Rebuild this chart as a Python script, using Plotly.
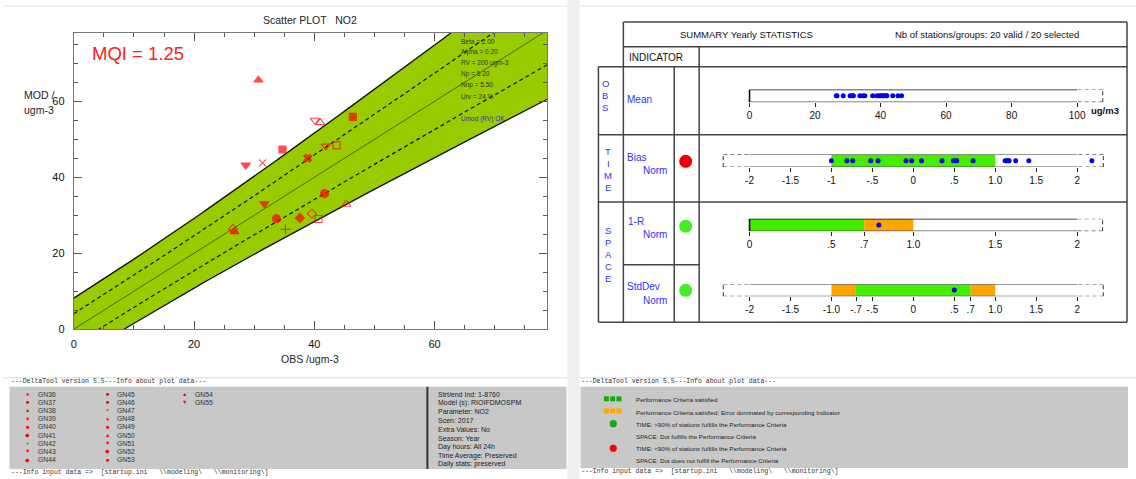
import numpy as np
import plotly.graph_objects as go

W, H = 1136, 479          # reference pixel frame used for all placements
FIG_H = 486               # rendered layout height (viewport compensation)
SANS = "Liberation Sans, Arial, sans-serif"
MONO = "Liberation Mono, Courier New, monospace"

# ---------------- data ----------------
stations = ['GN36', 'GN37', 'GN38', 'GN39', 'GN40', 'GN41', 'GN42', 'GN43', 'GN44', 'GN45',
            'GN46', 'GN47', 'GN48', 'GN49', 'GN50', 'GN51', 'GN52', 'GN53', 'GN54', 'GN55']
obs = [41.7, 43.7, 26.7, 31.7, 34.7, 37.6, 35.2, 41.9, 26.5, 46.4,
       40.7, 31.4, 33.7, 38.9, 30.7, 28.6, 39.6, 45.3, 41.0, 40.1]
mod = [35.7, 48.4, 25.7, 33.0, 47.3, 29.3, 26.3, 48.2, 26.4, 55.9,
       29.0, 43.8, 29.1, 45.0, 65.6, 43.2, 30.4, 32.9, 54.4, 55.0]
symbols = ['circle', 'square-open', 'triangle-up', 'triangle-down', 'square', 'diamond',
           'cross-thin-open', 'triangle-down-open', 'diamond-open', 'square', 'square-open',
           'x-thin-open', 'circle', 'x', 'triangle-up', 'triangle-down', 'diamond-open',
           'triangle-up-open', 'triangle-up-open', 'triangle-down-open']
legend_chars = ['●', '■', '▲', '▼', '■', '◆', '+', '▼', '◆', '■',
                '■', '×', '●', '■', '▲', '▼', '◆', '■', '▲', '▼']

# MQO parameters (shown on the plot)
beta, alpha, rv, n_p, n_np, urv = 2.0, 0.20, 200.0, 5.20, 5.50, 0.24
mqi_value = 1.25
param_lines = ['Beta = 2.00', 'Alpha = 0.20', 'RV = 200 ugm-3', 'Np = 5.20', 'Nnp = 5.50', 'Urv = 24 %']

bias_norm = [-1.00, -0.81, -0.74, -0.52, -0.43, -0.09, -0.02, 0.10, 0.35, 0.49,
             0.52, 0.53, 0.73, 1.12, 1.14, 1.16, 1.17, 1.25, 1.41, 2.18]
one_minus_r_norm = [0.79]
stddev_norm = [0.50]

mean_ticks = [0, 20, 40, 60, 80, 100]
bias_ticks = [-2, -1.5, -1, -0.5, 0, 0.5, 1, 1.5, 2]
bias_ticktext = ['-2', '-1.5', '-1', '-.5', '0', '.5', '1.0', '1.5', '2']
r_ticks = [0, 0.5, 0.7, 1, 1.5, 2]
r_ticktext = ['0', '.5', '.7', '1.0', '1.5', '2']
sd_ticks = [-2, -1.5, -1, -0.7, -0.5, 0, 0.5, 0.7, 1, 1.5, 2]
sd_ticktext = ['-2', '-1.5', '-1.0', '-.7', '-.5', '0', '.5', '.7', '1.0', '1.5', '2']

info_lines = ['Strt/end Ind: 1-8760', 'Model (s): RIOIFDMOSPM', 'Parameter: NO2', 'Scen: 2017',
              'Extra Values: No', 'Season: Year', 'Day hours: All 24h',
              'Time Average: Preserved', 'Daily stats: preserved']
summary_legend = ['Performance Criteria satisfied',
                  'Performance Criteria satisfied; Error dominated by corresponding Indicator',
                  'TIME: >90% of stations fulfills the Performance Criteria',
                  'SPACE: Dot fulfills the Performance Criteria',
                  'TIME: <90% of stations fulfills the Performance Criteria',
                  'SPACE: Dot does not fulfill the Performance Criteria']

# ---------------- helpers ----------------
def PX(x):
    return x / W


def PY(y):
    return 1 - y / H


shapes = []
annotations = []
DASH = '4px,3px'


def txt(x, y, s, size, color='#222', anchor='left', family=SANS, yanchor='middle'):
    annotations.append(dict(x=PX(x), y=PY(y), xref='paper', yref='paper', text=s, showarrow=False,
                            xanchor=anchor, yanchor=yanchor, borderpad=0,
                            font=dict(size=size, color=color, family=family)))


def pline(x0, y0, x1, y1, color='#333', width=1.0, dash='solid'):
    shapes.append(dict(type='line', xref='paper', yref='paper', x0=PX(x0), y0=PY(y0), x1=PX(x1), y1=PY(y1),
                       line=dict(color=color, width=width, dash=dash)))


def prect(x0, y0, x1, y1, fill, line_color=None, layer='below'):
    shapes.append(dict(type='rect', xref='paper', yref='paper', x0=PX(x0), y0=PY(y1), x1=PX(x1), y1=PY(y0),
                       fillcolor=fill, line=dict(width=0 if line_color is None else 1,
                                                  color=line_color or fill), layer=layer))


def pcircle(cx, cy, r, fill):
    shapes.append(dict(type='circle', xref='paper', yref='paper', x0=PX(cx - r), y0=PY(cy + r),
                       x1=PX(cx + r), y1=PY(cy - r), fillcolor=fill, line=dict(width=0)))


fig = go.Figure()

# ---------------- left: scatter ----------------
o_grid = np.linspace(0, 80, 321)
unc = urv * np.sqrt((1 - alpha ** 2) * o_grid ** 2 / n_p + alpha ** 2 * rv ** 2 / n_np)
upper = o_grid + beta * unc
lower = np.clip(o_grid - beta * unc, 0, None)

fig.add_trace(go.Scatter(x=np.concatenate([o_grid, o_grid[::-1]]),
                         y=np.concatenate([upper, lower[::-1]]),
                         fill='toself', fillcolor='#99cc00', mode='lines', line=dict(width=0),
                         hoverinfo='skip', xaxis='x', yaxis='y'))
for yy in (upper, o_grid - beta * unc):
    fig.add_trace(go.Scatter(x=o_grid, y=yy, mode='lines', line=dict(color='#111', width=1.3),
                             hoverinfo='skip', xaxis='x', yaxis='y'))
for yy in (o_grid + unc, o_grid - unc):
    fig.add_trace(go.Scatter(x=o_grid, y=yy, mode='lines', line=dict(color='#111', width=1.2, dash=DASH),
                             hoverinfo='skip', xaxis='x', yaxis='y'))
fig.add_trace(go.Scatter(x=o_grid, y=o_grid, mode='lines', line=dict(color='#3a4a10', width=0.8),
                         hoverinfo='skip', xaxis='x', yaxis='y'))

sizes = [8 if ('triangle' in s or 'circle' in s) else 7 for s in symbols]
fig.add_trace(go.Scatter(x=obs, y=mod, mode='markers', text=stations, xaxis='x', yaxis='y',
                         marker=dict(symbol=symbols, color='#ff0000', size=sizes,
                                     line=dict(color='#ff0000', width=1.1))))

txt(307.5, 19.5, 'Scatter PLOT   NO2', 10.5, '#222', anchor='center')
txt(88, 53.5, f'MQI = {mqi_value:.2f}', 18.5, '#ff2020')
txt(20, 95, 'MOD /', 10.5, '#222')
txt(20, 110, 'ugm-3', 10.5, '#222')
txt(308, 358, 'OBS /ugm-3', 10.5, '#222', anchor='center')
for k, s in enumerate(param_lines):
    txt(458, 41 + k * 11, s, 6.5, '#333')
txt(458, 118.5, 'Umod (RV) OK', 6.5, '#3333aa')

# ---------------- right: summary table ----------------
TC = '#444'
pline(622, 22, 1127, 22, TC, 1.5)
pline(622, 46.7, 1127, 46.7, TC, 1.5)
pline(597, 66.7, 1127, 66.7, TC, 1.5)
pline(597, 134.5, 1127, 134.5, TC, 1.5)
pline(597, 201.7, 1127, 201.7, TC, 1.5)
pline(622, 264.3, 698, 264.3, TC, 1.5)
pline(597, 321.7, 1127, 321.7, TC, 1.5)
pline(597, 66.7, 597, 321.7, TC, 1.5)
pline(622, 22, 622, 321.7, TC, 1.5)
pline(673, 66.7, 673, 321.7, TC, 1.5)
pline(698, 46.7, 698, 321.7, TC, 1.5)
pline(1127, 22, 1127, 321.7, TC, 1.5)

txt(745.5, 34.5, 'SUMMARY Yearly STATISTICS', 9.5, '#111', anchor='center')
txt(987, 34.5, 'Nb of stations/groups: 20 valid / 20 selected', 9.5, '#111', anchor='center')
txt(627, 57.3, 'INDICATOR', 10, '#111')

BLUE = '#3030ff'
for k, ch in enumerate('OBS'):
    txt(604, 83 + k * 12, ch, 9.5, BLUE, anchor='center')
for k, ch in enumerate('TIME'):
    txt(607, 151 + k * 12, ch, 9.5, BLUE, anchor='center')
for k, ch in enumerate('SPACE'):
    txt(607, 230 + k * 12, ch, 9.5, BLUE, anchor='center')
txt(625, 99, 'Mean', 10, BLUE)
txt(625, 157, 'Bias', 10, BLUE)
txt(640.5, 170.5, 'Norm', 10, BLUE)
txt(626, 221, '1-R', 10, BLUE)
txt(640.5, 234.5, 'Norm', 10, BLUE)
txt(625, 286, 'StdDev', 10, BLUE)
txt(640.5, 299.5, 'Norm', 10, BLUE)
pcircle(684.5, 161, 6.5, '#ee0000')
pcircle(684.5, 225.7, 6.5, '#44ee22')
pcircle(684.5, 289.7, 6.5, '#44ee22')
txt(1105, 110.5, '<b>ug/m3</b>', 9.5, '#111', anchor='center')

GREEN = '#44ee00'
ORANGE = '#ffa500'

rows = [
    # idx, vmin, vmax, y_top, y_bot, ticks, ticktext, ext_lo, ext_hi, top_col, left_edge, bands, values
    (2, 0, 100, 89.3, 102.0, mean_ticks, [str(t) for t in mean_ticks], None, 107.8, '#111', True, [], obs),
    (3, -2, 2, 154.0, 166.7, bias_ticks, bias_ticktext, -2.32, 2.32, '#777', False, [(-1, 1, GREEN)], bias_norm),
    (4, 0, 2, 218.3, 230.7, r_ticks, r_ticktext, None, 2.155, '#111', True,
     [(0, 0.7, GREEN), (0.7, 1.0, ORANGE)], one_minus_r_norm),
    (5, -2, 2, 283.3, 295.7, sd_ticks, sd_ticktext, -2.32, 2.32, '#777', False,
     [(-1.0, -0.7, ORANGE), (-0.7, 0.7, GREEN), (0.7, 1.0, ORANGE)], stddev_norm),
]
P0, P1 = 748.5, 1077.0
D0, D1 = 698.0, 1127.0
layout_axes = {}
for (i, vmin, vmax, yt, yb, tv, tt, elo, ehi, topc, ledge, bands, vals) in rows:
    scale = (P1 - P0) / (vmax - vmin)
    rlo = vmin + (D0 - P0) / scale
    rhi = vmin + (D1 - P0) / scale
    layout_axes[f'xaxis{i}'] = dict(domain=[PX(D0), PX(D1)], range=[rlo, rhi], anchor=f'y{i}',
                                    tickmode='array', tickvals=tv, ticktext=tt, ticks='outside',
                                    ticklen=4, tickwidth=1, tickcolor='#222', showline=False,
                                    showgrid=False, zeroline=False, fixedrange=True,
                                    tickfont=dict(size=10, color='#111', family=SANS))
    layout_axes[f'yaxis{i}'] = dict(domain=[PY(yb), PY(yt)], range=[0, 1], anchor=f'x{i}',
                                    visible=False, fixedrange=True)
    xr, yr = f'x{i}', f'y{i}'
    for (a, b, c) in bands:
        shapes.append(dict(type='rect', xref=xr, yref=yr, x0=a, x1=b, y0=0, y1=1, fillcolor=c,
                           line=dict(width=0), layer='below'))
    shapes.append(dict(type='line', xref=xr, yref=yr, x0=vmin, x1=vmax, y0=1, y1=1,
                       line=dict(color=topc, width=1.6)))
    shapes.append(dict(type='line', xref=xr, yref=yr, x0=vmin, x1=vmax, y0=0, y1=0,
                       line=dict(color='#555', width=1.2)))
    if ledge:
        shapes.append(dict(type='line', xref=xr, yref=yr, x0=vmin, x1=vmin, y0=0, y1=1,
                           line=dict(color='#111', width=1.6)))
    for (e, v) in ((elo, vmin), (ehi, vmax)):
        if e is None:
            continue
        for yy in (0, 1):
            shapes.append(dict(type='line', xref=xr, yref=yr, x0=e, x1=v, y0=yy, y1=yy,
                               line=dict(color='#555', width=1.2, dash=DASH)))
        shapes.append(dict(type='line', xref=xr, yref=yr, x0=e, x1=e, y0=0, y1=1,
                           line=dict(color='#555', width=1.2, dash=DASH)))
    fig.add_trace(go.Scatter(x=vals, y=[0.5] * len(vals), mode='markers', xaxis=xr, yaxis=yr,
                             cliponaxis=False, hoverinfo='x',
                             marker=dict(color='#0000ee', size=5, line=dict(width=0))))

# ---------------- page furniture ----------------
prect(566, 0, 578, H, '#efefef')
pline(0, 6, 566, 6, '#e4e4e4', 1)
pline(578, 6, 1136, 6, '#e4e4e4', 1)
pline(0, 377, 566, 377, '#d8d8d8', 1)
pline(578, 377, 1136, 377, '#d8d8d8', 1)
prect(6.5, 386, 565, 468, '#c8c8c8')
prect(579, 386, 1128, 467, '#c8c8c8')
pline(425.5, 386, 425.5, 468, '#333', 2)

hdr = '---DeltaTool version 5.5---Info about plot data---'
ftr = r'---Info input data =>  [startup.ini   \\modeling\   \\monitoring\]'
txt(7, 381, hdr, 6.5, '#333', family=MONO)
txt(7, 472, ftr, 6.5, '#333', family=MONO)
txt(579, 380.5, hdr, 6.5, '#333', family=MONO)
txt(579, 471, ftr, 6.5, '#333', family=MONO)

col_marker = [24.7, 104.4, 181.8]
col_text = [34.5, 113.5, 191.6]
for k, (st, ch) in enumerate(zip(stations, legend_chars)):
    c, r = divmod(k, 9)
    y = 393.3 + r * 8.17
    txt(col_marker[c], y, ch, 5.5, '#ff0000', anchor='center')
    txt(col_text[c], y, st, 6.8, '#333')
for k, s in enumerate(info_lines):
    txt(435.6, 393.5 + k * 8.75, s, 7.0, '#222')

for j in range(3):
    prect(602.5 + j * 6.3, 395.5, 607.5 + j * 6.3, 400.5, '#11aa11')
    prect(602.5 + j * 6.3, 407.5, 607.5 + j * 6.3, 412.5, '#ffaa00')
pcircle(611.9, 422.8, 3.6, '#11aa11')
pcircle(611.9, 447.3, 3.6, '#ff0000')
for k, s in enumerate(summary_legend):
    txt(633.2, 399 + k * 12.2, s, 6.2, '#222')

fig.update_layout(
    width=W, height=FIG_H, autosize=False, margin=dict(l=0, r=0, t=0, b=0),
    paper_bgcolor='white', plot_bgcolor='white', showlegend=False,
    font=dict(family=SANS, color='#222'),
    xaxis=dict(domain=[PX(71), PX(545.5)], range=[0, 78.7], anchor='y', showgrid=False, zeroline=False,
               showline=True, linecolor='#777', linewidth=1, mirror='ticks', ticks='inside',
               ticklen=8, tickcolor='#555', dtick=20, tick0=0, ticklabelstandoff=5,
               minor=dict(dtick=5, ticks='inside', ticklen=4, tickcolor='#555'),
               tickfont=dict(size=11, color='#111'), fixedrange=True),
    yaxis=dict(domain=[PY(328.5), PY(32.7)], range=[0, 78.05], anchor='x', showgrid=False, zeroline=False,
               showline=True, linecolor='#777', linewidth=1, mirror='ticks', ticks='inside',
               ticklen=8, tickcolor='#555', dtick=20, tick0=0, ticklabelstandoff=6,
               minor=dict(dtick=5, ticks='inside', ticklen=4, tickcolor='#555'),
               tickfont=dict(size=11, color='#111'), fixedrange=True),
    shapes=shapes, annotations=annotations,
    **layout_axes,
)

fig.write_html('out.html', config={'displayModeBar': False},
               post_script="document.body.style.margin='0px';document.body.style.overflow='hidden';")
